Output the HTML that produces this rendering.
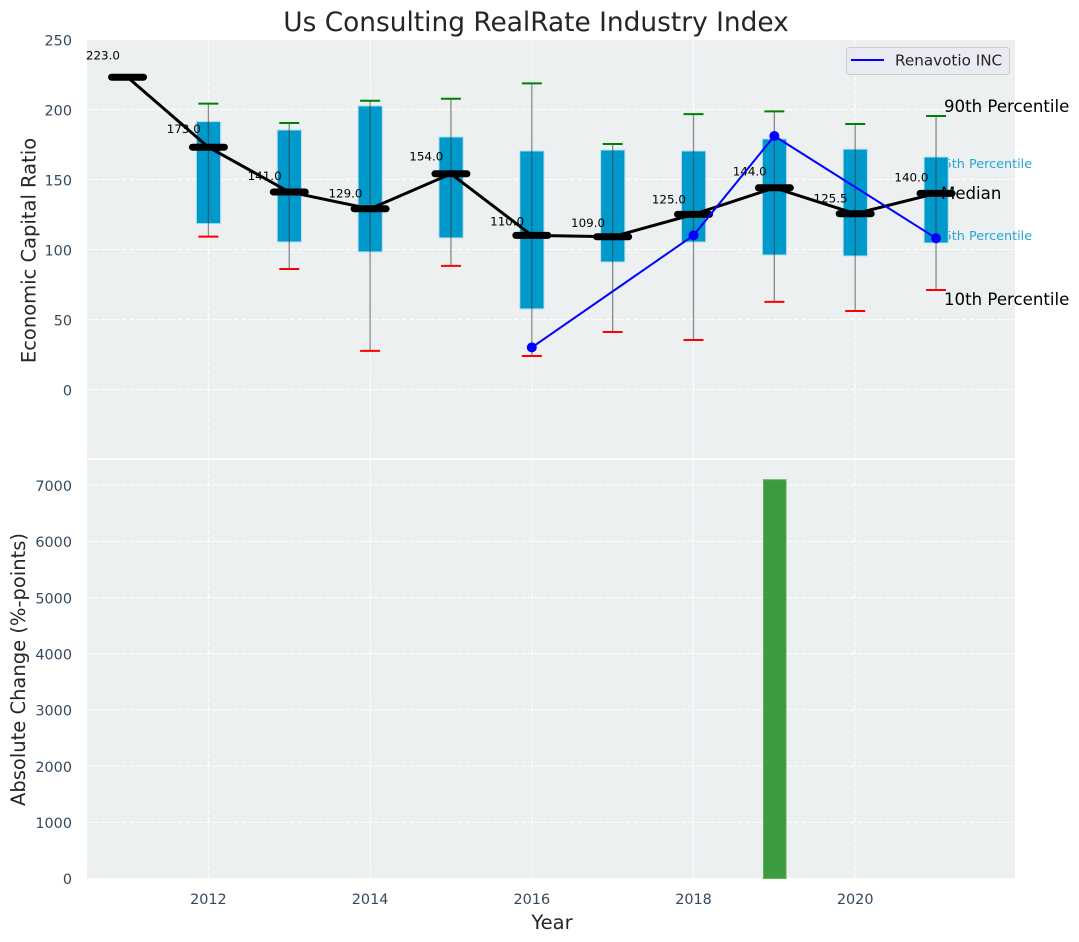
<!DOCTYPE html>
<html lang="en">
<head>
<meta charset="utf-8">
<title>Us Consulting RealRate Industry Index</title>
<style>
html,body{margin:0;padding:0;background:#fff;}
svg{display:block;font-family:"DejaVu Sans","Liberation Sans",sans-serif;}
</style>
</head>
<body>
<svg id="chart" xmlns="http://www.w3.org/2000/svg" width="1079" height="942" viewBox="0 0 1079 942">
  <rect x="87" y="40" width="928" height="418.3" fill="#ecf0f1"/>
  <rect x="87" y="460" width="928" height="418.5" fill="#ecf0f1"/>
  <g id="grid"></g>
  <g id="annoBehind">
    <text x="935.5" y="168" font-size="12.8" fill="#0099cc" fill-opacity="0.85">75th Percentile</text>
    <text x="935.5" y="240" font-size="12.8" fill="#0099cc" fill-opacity="0.85">25th Percentile</text>
  </g>
  <g id="boxes"></g>
  <g id="bars"></g>
  <g id="medians"></g>
  <g id="company"></g>
  <g id="ticks"></g>
  <text x="536" y="31" text-anchor="middle" font-size="26.4" fill="#262626">Us Consulting RealRate Industry Index</text>
  <text transform="translate(35.5 250.5) rotate(-90)" text-anchor="middle" font-size="19.5" fill="#262626">Economic Capital Ratio</text>
  <text transform="translate(25 669.5) rotate(-90)" text-anchor="middle" font-size="19.5" fill="#262626">Absolute Change (%-points)</text>
  <text x="552" y="929" text-anchor="middle" font-size="19.5" fill="#262626">Year</text>
  <g font-size="16.6" fill="#000">
    <text x="944" y="112">90th Percentile</text>
    <text x="941" y="199">Median</text>
    <text x="944" y="305">10th Percentile</text>
  </g>
  <g>
    <rect x="846.5" y="47.5" width="163" height="27" rx="3" fill="#eaeaf2" stroke="#cccccc" stroke-width="1"/>
    <line x1="851" y1="60" x2="884" y2="60" stroke="#0000ff" stroke-width="2"/>
    <text x="895" y="65.5" font-size="15.2" fill="#262626">Renavotio INC</text>
  </g>
</svg>
<script>
const years = [2011, 2012, 2013, 2014, 2015, 2016, 2017, 2018, 2019, 2020, 2021];
const medianValues = [223, 173, 141, 129, 154, 110, 109, 125, 144, 125.5, 140];
const p90Values = [null, 204.1, 190.3, 206.2, 207.6, 218.6, 175.3, 196.6, 198.6, 189.6, 195.3];
const p10Values = [null, 109.1, 86, 27.5, 88.2, 23.9, 41, 35.3, 62.5, 56, 71];
const p75Values = [null, 191.3, 185.3, 202.5, 180.3, 170.3, 171, 170.3, 178.9, 171.6, 166];
const p25Values = [null, 118.4, 105.3, 98.2, 108.2, 57.5, 91, 105.3, 96, 95.3, 104.6];
const companyYears = [2016, 2018, 2019, 2021];
const companyValues = [30, 110, 181, 108];
const changeValues = [null, null, null, null, null, null, null, null, 7100, null, null];
const xTickLabels = [2012, 2014, 2016, 2018, 2020];
const xGridValues = [2012, 2014, 2016, 2018, 2020];
const topYTickLabels = [0, 50, 100, 150, 200, 250];
const bottomYTickLabels = [0, 1000, 2000, 3000, 4000, 5000, 6000, 7000];

const NS = 'http://www.w3.org/2000/svg';
const xScale = v => 208.4 + (v - 2012) * 80.85;
const yTop = v => 389.4 - v * 1.4;
const yBottom = v => 878.5 - v * 0.05617;

function node(parent, tag, props, text) {
  const el = document.createElementNS(NS, tag);
  for (const k in props) el.setAttribute(k, props[k]);
  if (text !== undefined) el.textContent = text;
  document.getElementById(parent).appendChild(el);
  return el;
}

const gridStyle = {stroke: '#fff', 'stroke-width': 1.1, 'stroke-dasharray': '5 2', 'stroke-opacity': 0.9};

xGridValues.forEach(v => {
  let el = node('grid', 'line', Object.assign({x1: xScale(v), x2: xScale(v), y1: 40, y2: 458.3}, gridStyle));
  
  
  el = node('grid', 'line', Object.assign({x1: xScale(v), x2: xScale(v), y1: 460, y2: 878.5}, gridStyle));
  
  
  el = node('ticks', 'text', {x: xScale(v), y: 904, 'text-anchor': 'middle', 'font-size': 14.4, fill: '#34495e'}, xTickLabels[xGridValues.indexOf(v)]);
  
  
});

topYTickLabels.forEach(v => {
  let el = node('grid', 'line', Object.assign({x1: 87, x2: 1015, y1: yTop(v), y2: yTop(v)}, gridStyle));
  
  
  el = node('ticks', 'text', {x: 72, y: yTop(v) + 6.3, 'text-anchor': 'end', 'font-size': 14.4, fill: '#34495e'}, v);
  
  
});

bottomYTickLabels.forEach(v => {
  let el = node('grid', 'line', Object.assign({x1: 87, x2: 1015, y1: yBottom(v), y2: yBottom(v)}, gridStyle));
  
  
  el = node('ticks', 'text', {x: 72, y: yBottom(v) + 5.6, 'text-anchor': 'end', 'font-size': 14.4, fill: '#34495e'}, v);
  
  
});

years.forEach((yr, i) => {
  const cx = xScale(yr);
  if (p75Values[i] !== null) {
    let el = node('boxes', 'rect', {x: cx - 12, width: 24.2, y: yTop(p75Values[i]), height: yTop(p25Values[i]) - yTop(p75Values[i]), fill: '#0099cc', stroke: '#b5dfee', 'stroke-width': 1});
    
    
    el = node('boxes', 'line', {x1: cx, x2: cx, y1: yTop(p90Values[i]), y2: yTop(p10Values[i]), stroke: '#333', 'stroke-opacity': 0.55, 'stroke-width': 1.3});
    
    
    el = node('boxes', 'line', {x1: cx - 10, x2: cx + 10, y1: yTop(p90Values[i]), y2: yTop(p90Values[i]), stroke: '#008000', 'stroke-width': 2});
    
    
    el = node('boxes', 'line', {x1: cx - 10, x2: cx + 10, y1: yTop(p10Values[i]), y2: yTop(p10Values[i]), stroke: '#ff0000', 'stroke-width': 2});
    
    
  }
  if (changeValues[i] !== null) {
    const el = node('bars', 'rect', {x: cx - 10.9, width: 22.6, y: yBottom(changeValues[i]), height: yBottom(0) - yBottom(changeValues[i]), fill: '#3a9b3f', stroke: '#62b166', 'stroke-width': 1});
    
    
  }
});

const medianPath = node('medians', 'polyline', {
  points: years.map((yr, i) => xScale(yr) + ',' + yTop(medianValues[i])).join(' '),
  fill: 'none', stroke: '#000', 'stroke-width': 3
});



years.forEach((yr, i) => {
  const cx = xScale(yr);
  let el = node('medians', 'text', {x: cx - 7.6, y: yTop(medianValues[i] * 1.05) - 2.3, 'text-anchor': 'end', 'font-size': 11.9, fill: '#000'}, medianValues[i].toFixed(1));
  
  
  el = node('medians', 'line', {x1: cx - 16, x2: cx + 16, y1: yTop(medianValues[i]), y2: yTop(medianValues[i]), stroke: '#000', 'stroke-width': 7, 'stroke-linecap': 'round'});
  
  
});

const companyLine = node('company', 'polyline', {
  points: companyYears.map((yr, i) => xScale(yr) + ',' + yTop(companyValues[i])).join(' '),
  fill: 'none', stroke: '#0000ff', 'stroke-width': 2
});



companyYears.forEach((yr, i) => {
  const el = node('company', 'circle', {cx: xScale(yr), cy: yTop(companyValues[i]), r: 5, fill: '#0000ff'});
  
  
});
</script>
</body>
</html>
